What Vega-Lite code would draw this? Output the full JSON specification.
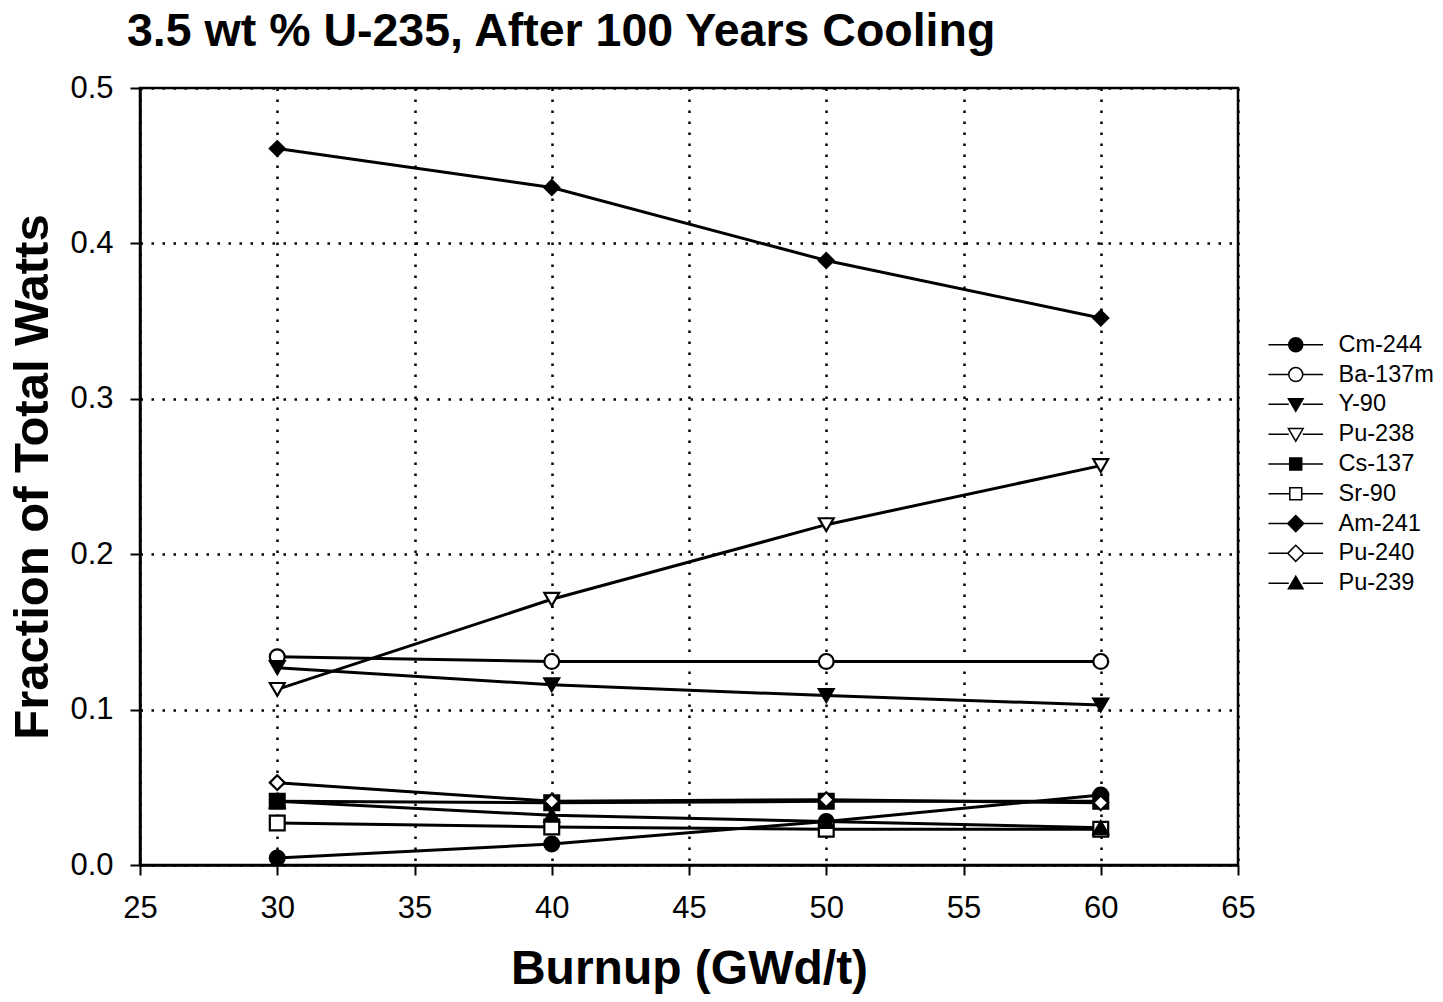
{
  "$schema": "https://vega.github.io/schema/vega-lite/v6.json",
  "autosize": "none",
  "width": 1098,
  "height": 777,
  "padding": {"left": 140, "top": 88, "right": 205, "bottom": 137},
  "background": "white",
  "config": {
    "font": "Liberation Sans",
    "view": {"stroke": "black", "strokeWidth": 2.5},
    "axis": {
      "domainColor": "black", "domainWidth": 2.5,
      "tickColor": "black", "tickWidth": 2, "tickSize": 10,
      "labelColor": "black", "labelFont": "Liberation Sans", "labelFontSize": 31,
      "titleColor": "black", "titleFont": "Liberation Sans", "titleFontWeight": "bold",
      "gridColor": "black", "gridWidth": 2.5, "gridDash": [2.5, 8.5], "gridOpacity": 1
    }
  },
  "title": {
    "text": "3.5 wt % U-235, After 100 Years Cooling",
    "anchor": "start", "frame": "group", "dx": -13, "offset": 17,
    "font": "Liberation Sans", "fontSize": 46.5, "fontWeight": "bold", "color": "black"
  },
  "data": {
    "values": [
      {"burnup": 30, "isotope": "Cm-244", "frac": 0.0045},
      {"burnup": 40, "isotope": "Cm-244", "frac": 0.0135},
      {"burnup": 50, "isotope": "Cm-244", "frac": 0.028},
      {"burnup": 60, "isotope": "Cm-244", "frac": 0.045},
      {"burnup": 30, "isotope": "Ba-137m", "frac": 0.134},
      {"burnup": 40, "isotope": "Ba-137m", "frac": 0.131},
      {"burnup": 50, "isotope": "Ba-137m", "frac": 0.131},
      {"burnup": 60, "isotope": "Ba-137m", "frac": 0.131},
      {"burnup": 30, "isotope": "Y-90", "frac": 0.127},
      {"burnup": 40, "isotope": "Y-90", "frac": 0.116},
      {"burnup": 50, "isotope": "Y-90", "frac": 0.109},
      {"burnup": 60, "isotope": "Y-90", "frac": 0.103},
      {"burnup": 30, "isotope": "Pu-238", "frac": 0.113},
      {"burnup": 40, "isotope": "Pu-238", "frac": 0.171},
      {"burnup": 50, "isotope": "Pu-238", "frac": 0.219},
      {"burnup": 60, "isotope": "Pu-238", "frac": 0.257},
      {"burnup": 30, "isotope": "Cs-137", "frac": 0.041},
      {"burnup": 40, "isotope": "Cs-137", "frac": 0.040},
      {"burnup": 50, "isotope": "Cs-137", "frac": 0.041},
      {"burnup": 60, "isotope": "Cs-137", "frac": 0.041},
      {"burnup": 30, "isotope": "Sr-90", "frac": 0.027},
      {"burnup": 40, "isotope": "Sr-90", "frac": 0.0245},
      {"burnup": 50, "isotope": "Sr-90", "frac": 0.023},
      {"burnup": 60, "isotope": "Sr-90", "frac": 0.023},
      {"burnup": 30, "isotope": "Am-241", "frac": 0.461},
      {"burnup": 40, "isotope": "Am-241", "frac": 0.436},
      {"burnup": 50, "isotope": "Am-241", "frac": 0.389},
      {"burnup": 60, "isotope": "Am-241", "frac": 0.352},
      {"burnup": 30, "isotope": "Pu-240", "frac": 0.053},
      {"burnup": 40, "isotope": "Pu-240", "frac": 0.041},
      {"burnup": 50, "isotope": "Pu-240", "frac": 0.042},
      {"burnup": 60, "isotope": "Pu-240", "frac": 0.040},
      {"burnup": 30, "isotope": "Pu-239", "frac": 0.041},
      {"burnup": 40, "isotope": "Pu-239", "frac": 0.032},
      {"burnup": 50, "isotope": "Pu-239", "frac": 0.028},
      {"burnup": 60, "isotope": "Pu-239", "frac": 0.024}
    ]
  },
  "encoding": {
    "x": {
      "field": "burnup", "type": "quantitative",
      "scale": {"domain": [25, 65], "nice": false, "zero": false},
      "axis": {"title": "Burnup (GWd/t)", "titleFontSize": 48, "titlePadding": 22,
               "values": [25, 30, 35, 40, 45, 50, 55, 60, 65], "format": "d",
               "labelPadding": 18, "labelFlush": false, "grid": true}
    },
    "y": {
      "field": "frac", "type": "quantitative",
      "scale": {"domain": [0, 0.5], "nice": false},
      "axis": {"title": "Fraction of Total Watts", "titleFontSize": 49, "titlePadding": 12,
               "values": [0, 0.1, 0.2, 0.3, 0.4, 0.5], "format": ".1f",
               "labelPadding": 17, "labelFlush": false, "grid": true}
    }
  },
  "layer": [
    {
      "mark": {"type": "line", "color": "black", "strokeWidth": 3},
      "encoding": {"detail": {"field": "isotope"}}
    },
    {
      "mark": {"type": "point", "filled": true, "stroke": "black", "strokeWidth": 2.2, "size": 220, "opacity": 1},
      "encoding": {
        "shape": {
          "field": "isotope", "type": "nominal",
          "scale": {
            "domain": ["Cm-244", "Ba-137m", "Y-90", "Pu-238", "Cs-137", "Sr-90", "Am-241", "Pu-240", "Pu-239"],
            "range": ["circle", "circle", "triangle-down", "triangle-down", "square", "square", "diamond", "diamond", "triangle-up"]
          },
          "legend": null
        },
        "fill": {
          "field": "isotope", "type": "nominal",
          "scale": {
            "domain": ["Cm-244", "Ba-137m", "Y-90", "Pu-238", "Cs-137", "Sr-90", "Am-241", "Pu-240", "Pu-239"],
            "range": ["black", "white", "black", "white", "black", "white", "black", "white", "black"]
          },
          "legend": null
        }
      }
    },
    {
      "mark": {"type": "point", "filled": true, "stroke": "black", "strokeWidth": 2, "size": 196, "opacity": 0},
      "encoding": {
        "shape": {
          "field": "isotope", "type": "nominal",
          "scale": {
            "domain": ["Cm-244", "Ba-137m", "Y-90", "Pu-238", "Cs-137", "Sr-90", "Am-241", "Pu-240", "Pu-239"],
            "range": [
              "M-3.9,0H-1M1,0H3.9M1,0A1,1 0 1,1 -1,0A1,1 0 1,1 1,0Z",
              "M-3.9,0H-1M1,0H3.9M1,0A1,1 0 1,1 -1,0A1,1 0 1,1 1,0Z",
              "M-3.9,0H-1M1,0H3.9M-1.05,-0.8L1.05,-0.8L0,1Z",
              "M-3.9,0H-1M1,0H3.9M-1.05,-0.8L1.05,-0.8L0,1Z",
              "M-3.9,0H-0.85M0.85,0H3.9M-0.85,-0.85H0.85V0.85H-0.85Z",
              "M-3.9,0H-0.85M0.85,0H3.9M-0.85,-0.85H0.85V0.85H-0.85Z",
              "M-3.9,0H-1.15M1.15,0H3.9M0,-1.15L1.15,0L0,1.15L-1.15,0Z",
              "M-3.9,0H-1.15M1.15,0H3.9M0,-1.15L1.15,0L0,1.15L-1.15,0Z",
              "M-3.9,0H-1M1,0H3.9M-1.05,0.8L1.05,0.8L0,-1Z"
            ]
          },
          "legend": {
            "title": null, "orient": "none", "legendX": 1144, "legendY": 245,
            "symbolSize": 196, "symbolOpacity": 1, "labelFontSize": 23.5, "labelColor": "black",
            "labelFont": "Liberation Sans", "labelOffset": 31, "rowPadding": 4.8, "padding": 0,
            "encode": {"symbols": {"update": {"stroke": {"value": "black"}, "strokeWidth": {"value": 2.5}, "strokeOpacity": {"value": 1}}}}
          }
        },
        "fill": {
          "field": "isotope", "type": "nominal",
          "scale": {
            "domain": ["Cm-244", "Ba-137m", "Y-90", "Pu-238", "Cs-137", "Sr-90", "Am-241", "Pu-240", "Pu-239"],
            "range": ["black", "white", "black", "white", "black", "white", "black", "white", "black"]
          },
          "legend": {
            "title": null, "orient": "none", "legendX": 1144, "legendY": 245,
            "symbolSize": 196, "symbolOpacity": 1, "labelFontSize": 23.5, "labelColor": "black",
            "labelFont": "Liberation Sans", "labelOffset": 31, "rowPadding": 4.8, "padding": 0,
            "encode": {"symbols": {"update": {"stroke": {"value": "black"}, "strokeWidth": {"value": 2.5}, "strokeOpacity": {"value": 1}}}}
          }
        }
      }
    }
  ],
  "resolve": {"scale": {"shape": "independent", "fill": "independent"}}
}
